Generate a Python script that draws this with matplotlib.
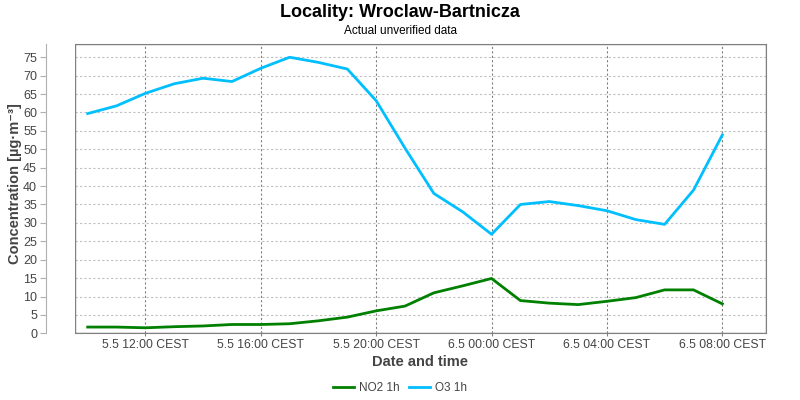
import matplotlib
matplotlib.use("Agg")
import matplotlib.pyplot as plt
from matplotlib.patches import Rectangle
import pandas as pd

plt.rcParams["font.family"] = ["Liberation Sans", "DejaVu Sans"]

# hourly data, 5.5 10:00 -> 6.5 08:00 (CEST)
times = pd.date_range("2024-05-05 10:00", "2024-05-06 08:00", freq="h")
no2 = [1.7, 1.7, 1.5, 1.8, 2.0, 2.4, 2.4, 2.6, 3.4, 4.4, 6.1, 7.4,
       11.0, 12.9, 14.9, 8.9, 8.2, 7.8, 8.7, 9.7, 11.8, 11.8, 8.0]
o3 = [59.7, 61.8, 65.2, 67.8, 69.3, 68.4, 72.0, 75.0, 73.6, 71.8, 63.2, 50.3,
      38.0, 33.0, 26.9, 35.0, 35.8, 34.7, 33.3, 30.9, 29.6, 38.9, 53.9]
tick_times = pd.date_range("2024-05-05 12:00", "2024-05-06 08:00", freq="4h")
tick_labels = [t.strftime("%-d.%-m %H:%M CEST") for t in tick_times]
y_ticks = list(range(0, 80, 5))

fig = plt.figure(figsize=(8, 4), dpi=100)
ax = fig.add_axes([0.094, 0.1667, 0.863, 0.7233])

ax.plot(times, no2, color="#008000", lw=2, label="NO2 1h")
ax.plot(times, o3, color="#00BFFF", lw=2, label="O3 1h")

ax.set_xlim(pd.Timestamp("2024-05-05 09:34"), pd.Timestamp("2024-05-06 09:30"))
ax.set_ylim(0, 78.6)
ax.set_xticks(tick_times)
ax.set_xticklabels(tick_labels)
ax.set_yticks(y_ticks)

ax.grid(axis="y", color="#c0c0c0", ls=(0, (2, 2)), lw=0.8)
ax.grid(axis="x", color="#808080", ls=(0, (2, 2)), lw=0.8)

for s in ["top", "right", "bottom"]:
    ax.spines[s].set_color("#808080")
ax.spines["left"].set_position(("outward", 21))
ax.spines["left"].set_color("#b0b0b0")
ax.add_patch(Rectangle((0, 0), 1, 1, transform=ax.transAxes, fill=False,
                       ec="#808080", lw=1, zorder=5))

ax.tick_params(axis="y", colors="#b0b0b0", labelcolor="#444444", labelsize=9, length=4, pad=2.5)
ax.tick_params(axis="x", colors="#808080", labelcolor="#444444", labelsize=8.8, length=2, pad=2)

ax.set_xlabel("Date and time", fontsize=10.5, fontweight="bold", color="#444444", labelpad=3)
ax.set_ylabel("Concentration [µg·m⁻³]", fontsize=10.5, fontweight="bold", color="#444444")
ax.yaxis.set_label_coords(-0.077, 0.516)

fig.text(0.5, 0.968, "Locality: Wroclaw-Bartnicza", ha="center", va="center",
         fontsize=13, fontweight="bold")
fig.text(0.5, 0.922, "Actual unverified data", ha="center", va="center", fontsize=8.5)

fig.legend(loc="center", bbox_to_anchor=(0.5, 0.03), ncol=2, frameon=False,
           fontsize=8.5, handlelength=1.8, handletextpad=0.4, columnspacing=0.8,
           labelcolor="#444444")

fig.savefig("out.png", dpi=100)
